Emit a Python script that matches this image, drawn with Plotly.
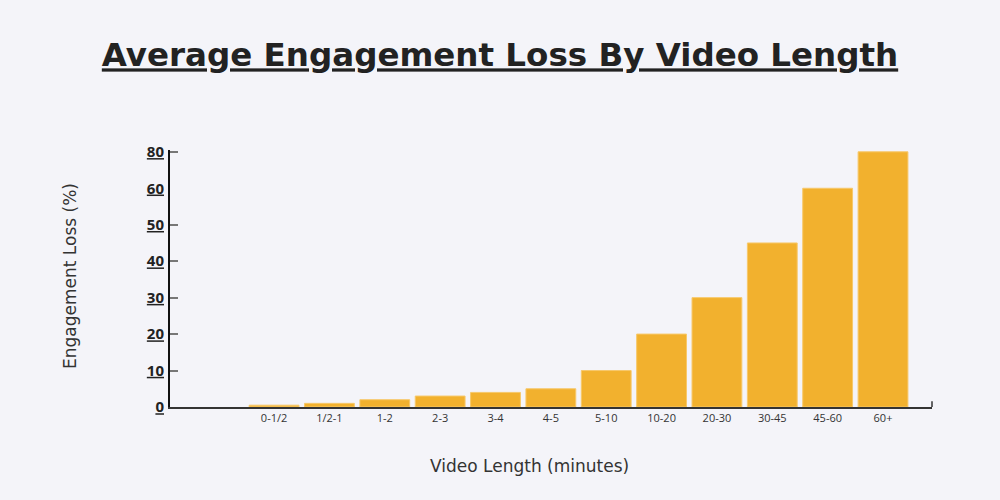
import numpy as np
import plotly.graph_objects as go

# ---- data ----
categories = ["0-1/2", "1/2-1", "1-2", "2-3", "3-4", "4-5", "5-10",
              "10-20", "20-30", "30-45", "45-60", "60+"]
engagement_loss = [0.5, 1, 2, 3, 4, 5, 10, 20, 30, 45, 60, 80]

# y-axis tick labels as printed, and where they sit on the (broken) axis
tick_label_values = [0, 10, 20, 30, 40, 50, 60, 80]
tick_positions = [0, 10, 20, 30, 40, 50, 60, 70]
tick_mark_positions = [10, 20, 30, 40, 50, 70]

title_text = "Average Engagement Loss By Video Length"
x_title = "Video Length (minutes)"
y_title = "Engagement Loss (%)"

# map values onto the chart's piecewise axis
bar_heights = np.interp(engagement_loss, tick_label_values, tick_positions)

BG = "#F4F4F9"
BAR = "#F2B12E"
FONT = "Open Sans, Lato, sans-serif"
WIDE = "DejaVu Sans, Open Sans, sans-serif"

fig = go.Figure()
fig.add_trace(go.Bar(
    x=list(range(len(categories))),
    y=bar_heights,
    width=0.9,
    marker=dict(color=BAR, line=dict(color="#F7C86A", width=1)),
    customdata=engagement_loss,
    hovertemplate="%{text}: %{customdata}%<extra></extra>",
    text=categories,
    textposition="none",
))

fig.update_layout(
    width=1000, height=500,
    paper_bgcolor=BG, plot_bgcolor=BG,
    margin=dict(l=170, r=68, t=150, b=93),
    showlegend=False,
    font=dict(family=FONT, color="#333333"),
    title=dict(
        text="<b><u>" + title_text + "</u></b>",
        x=0.5, xanchor="center", y=0.89, yanchor="middle",
        font=dict(size=32.5, color="#222222", family=WIDE),
    ),
    bargap=0.1,
)

fig.update_xaxes(
    range=[-1.88, 11.885],
    tickmode="array",
    tickvals=list(range(len(categories))),
    ticktext=categories,
    tickfont=dict(size=11, color="#333333"),
    showline=True, linecolor="#333333", linewidth=1.5,
    showgrid=False, zeroline=False, ticks="",
)

fig.update_yaxes(
    range=[0, 70.5],
    tickmode="array",
    tickvals=tick_positions,
    ticktext=["<b><u>%d</u></b>" % v for v in tick_label_values],
    tickfont=dict(size=15, color="#222222"),
    showline=True, linecolor="#111111", linewidth=2,
    showgrid=False, zeroline=False, ticks="",
    ticklabelstandoff=1,
    minor=dict(tickmode="array", tickvals=tick_mark_positions,
               ticks="inside", ticklen=8, tickcolor="#777777", tickwidth=2,
               showgrid=False),
)

# right-end tick on the x axis
fig.add_shape(type="line", xref="paper", yref="paper",
              x0=1, x1=1, y0=0, y1=0.022,
              line=dict(color="#333333", width=1.5))

fig.add_annotation(text=x_title, xref="paper", yref="paper",
                   x=(529 - 170) / 762, y=-(466 - 407) / 257,
                   xanchor="center", yanchor="middle", showarrow=False,
                   font=dict(size=17, color="#333333", family=WIDE))
fig.add_annotation(text=y_title, xref="paper", yref="paper",
                   x=-(170 - 70) / 762, y=(407 - 276) / 257,
                   xanchor="center", yanchor="middle", textangle=-90,
                   showarrow=False, font=dict(size=17, color="#333333", family=WIDE))

fig.write_html(
    "out.html",
    config={"displayModeBar": False},
    post_script="document.body.style.margin='0';document.body.style.background='%s';" % BG,
)
